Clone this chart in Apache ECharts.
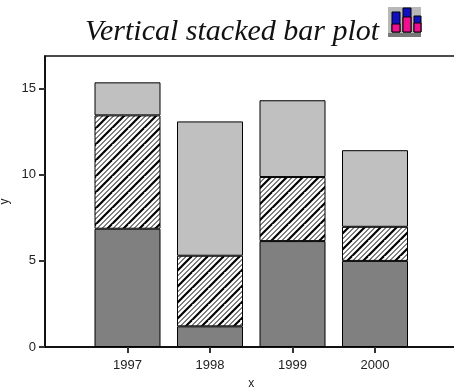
<!DOCTYPE html>
<html><head><meta charset="utf-8">
<style>html,body{margin:0;padding:0;background:#fff}#c{width:454px;height:389px}</style>
<script src="https://cdn.jsdelivr.net/npm/echarts@6/dist/echarts.min.js"></script>
</head><body><div id="c"></div>
<script>
const categories = ['', '1997', '1998', '1999', '2000', ''];
const baseValues = [null, 6.87, 1.2, 6.15, 5.0, null];
const hatchValues = [null, 6.58, 4.1, 3.72, 1.98, null];
const topValues = [null, 1.92, 7.8, 4.46, 4.45, null];
const yTicks = [0, 5, 10, 15];
const xTickIndexes = [1, 2, 3, 4];

function hatch() {
  const n = 16, c = document.createElement('canvas');
  c.width = c.height = n;
  const g = c.getContext('2d');
  g.fillStyle = '#fff'; g.fillRect(0, 0, n, n);
  g.strokeStyle = '#000';
  const stripes = [[0, 2.2], [5.5, 1.0], [10.5, 1.0]];
  stripes.forEach(([o, w]) => {
    g.lineWidth = w;
    for (let k = -n; k <= n; k += n) {
      g.beginPath(); g.moveTo(o + k - n, n * 2); g.lineTo(o + k + n, 0); g.stroke();
    }
  });
  return c;
}
const edge = { borderColor: '#000', borderWidth: 1 };
const mk = (data, color) => ({
  type: 'bar', stack: 's', barWidth: 66, data, silent: true,
  itemStyle: Object.assign({ color }, edge)
});
const chart = echarts.init(document.getElementById('c'), null, { renderer: 'canvas' });
const blue = '#1010c0', pink = '#f0108f';
const iconBar = (x, w, top, mid) => [
  { type: 'rect', shape: { x, y: top, width: w, height: 25 - top }, style: { fill: blue, stroke: '#000', lineWidth: 1 } },
  { type: 'rect', shape: { x, y: mid, width: w, height: 25 - mid }, style: { fill: pink, stroke: '#000', lineWidth: 1 } }
];
chart.setOption({
  animation: false,
  title: {
    text: 'Vertical stacked bar plot', left: 80, top: 12,
    textStyle: { fontFamily: 'Liberation Serif', fontStyle: 'italic', fontWeight: 'normal', fontSize: 30, color: '#111' }
  },
  grid: { left: 45, right: -3.5, top: 56, bottom: 42, show: true, borderColor: '#111', borderWidth: 1.5, outerBoundsMode: 'none' },
  xAxis: {
    type: 'category', data: categories, boundaryGap: false,
    name: 'x', nameLocation: 'middle', nameGap: 31, nameMoveOverlap: false,
    nameTextStyle: { fontFamily: 'Liberation Sans', fontSize: 12, color: '#222' },
    axisLine: { lineStyle: { color: '#000', width: 1.5 } },
    axisTick: { show: true, length: 6, lineStyle: { color: '#333', width: 2 }, customValues: xTickIndexes },
    axisLabel: { fontFamily: 'Liberation Sans', fontSize: 13, color: '#222', margin: 12, interval: 0 },
    splitLine: { show: false }
  },
  yAxis: {
    type: 'value', min: 0, max: 16.9,
    name: 'y', nameLocation: 'middle', nameGap: 34, nameMoveOverlap: false,
    nameTextStyle: { fontFamily: 'Liberation Sans', fontSize: 12, color: '#222' },
    axisLine: { show: true, lineStyle: { color: '#000', width: 1.5 } },
    axisTick: { show: true, length: 6, lineStyle: { color: '#333', width: 2 }, customValues: yTicks },
    axisLabel: { fontFamily: 'Liberation Sans', fontSize: 13, color: '#222', margin: 9, customValues: yTicks },
    splitLine: { show: false }
  },
  series: [mk(baseValues, '#808080'), mk(hatchValues, { image: hatch(), repeat: 'repeat' }), mk(topValues, '#c0c0c0')],
  graphic: [{
    type: 'group', left: 388, top: 7, children: [
      { type: 'rect', shape: { x: 0, y: 0, width: 33, height: 26 }, style: { fill: '#b8b8b8' } },
      { type: 'rect', shape: { x: 0, y: 26, width: 33, height: 4 }, style: { fill: '#777' } }
    ].concat(iconBar(4, 8, 5, 17), iconBar(15, 8, 1, 10), iconBar(26, 7, 9, 16))
  }]
});
</script></body></html>
